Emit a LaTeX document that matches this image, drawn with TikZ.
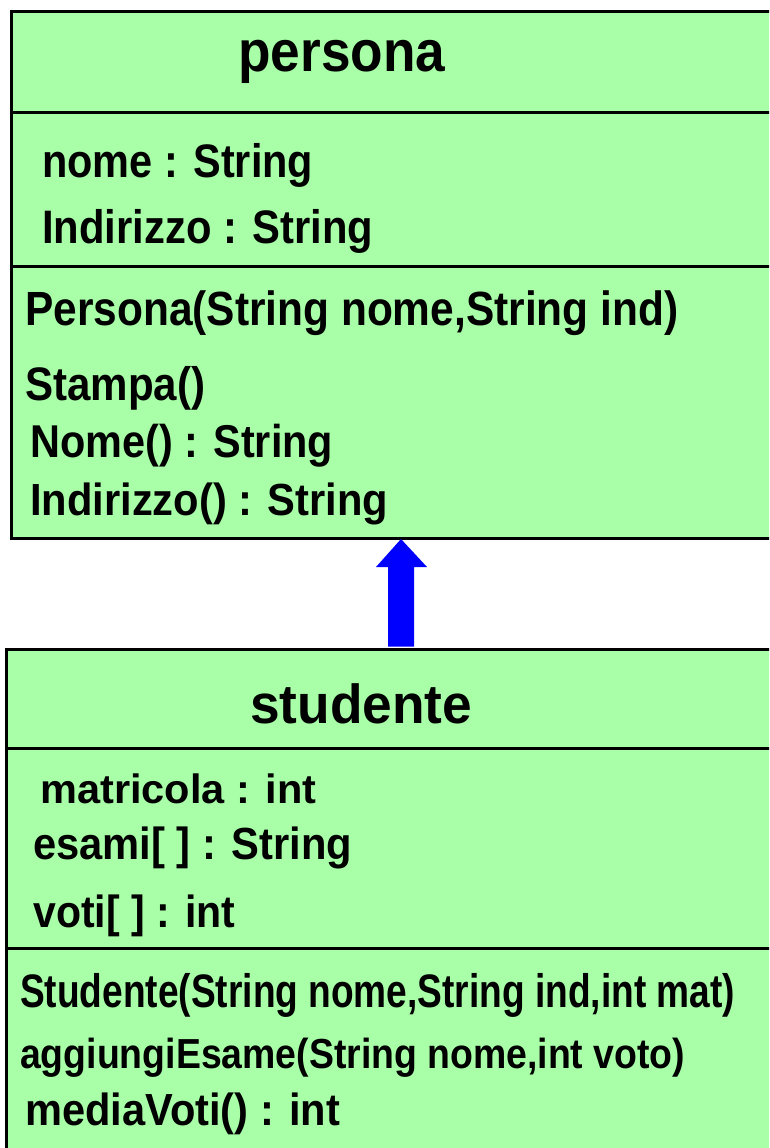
\documentclass[tikz,border=0pt]{standalone}
\usepackage{fontspec}
\setmainfont{Liberation Sans}
\usepackage{graphicx}
\usetikzlibrary{calc}
\definecolor{classfill}{RGB}{168,255,168}
\definecolor{inherit}{RGB}{0,0,255}
% #1 printed width, #2 font size, #3 text
\newcommand\fitline[3]{\resizebox{#1pt}{\height}{\fontsize{#2}{#2}\selectfont\bfseries #3}}
\tikzset{
  classbox/.style={draw=black, line width=3pt, fill=classfill, rectangle,
    anchor=north west, inner sep=0pt},
  sepline/.style={draw=black, line width=3pt},
  member/.style={anchor=base west, inner sep=0pt, text=black},
}
\begin{document}
\begin{tikzpicture}[x=1pt, y=-1pt]
\useasboundingbox (0,0) rectangle (769,1148);
\clip (0,0) rectangle (769,1148);

% class persona
\node[classbox, minimum width=800pt, minimum height=527pt] (pers) at (10,10) {};
\draw[sepline] ([yshift=-102pt]pers.north west) -- ([yshift=-102pt]pers.north east);
\draw[sepline] ([yshift=-256pt]pers.north west) -- ([yshift=-256pt]pers.north east);
\node[member] (pname) at (238,72) {\fitline{207}{58}{persona}};
\node[member] (pa1) at (42,177) {\fitline{271}{47}{nome : String}};
\node[member] (pa2) at (42,243) {\fitline{331}{47}{Indirizzo : String}};
\node[member] (pm1) at (25,325) {\fitline{653}{48}{Persona(String nome,String ind)}};
\node[member] (pm2) at (25,400) {\fitline{180}{47}{Stampa()}};
\node[member] (pm3) at (30,457) {\fitline{303}{46}{Nome() : String}};
\node[member] (pm4) at (30,515) {\fitline{358}{45}{Indirizzo() : String}};

% class studente
\node[classbox, minimum width=800pt, minimum height=560pt] (stud) at (5,648) {};
\draw[sepline] ([yshift=-100pt]stud.north west) -- ([yshift=-100pt]stud.north east);
\draw[sepline] ([yshift=-300pt]stud.north west) -- ([yshift=-300pt]stud.north east);
\node[member] (sname) at (250,723) {\fitline{222}{55}{studente}};
\node[member] (sa1) at (40,803) {\fitline{276}{41}{matricola : int}};
\node[member] (sa2) at (33,859) {\fitline{319}{45}{esami[ ] : String}};
\node[member] (sa3) at (33,927) {\fitline{202}{45}{voti[ ] : int}};
\node[member] (sm1) at (20,1007) {\fitline{715}{47}{Studente(String nome,String ind,int mat)}};
\node[member] (sm2) at (20,1068) {\fitline{665}{42}{aggiungiEsame(String nome,int voto)}};
\node[member] (sm3) at (25,1125) {\fitline{315}{45}{mediaVoti() : int}};

% generalisation arrow: studente -> persona
\coordinate (tip) at (pers.south -| 401,0);
\coordinate (foot) at (stud.north -| 401,0);
\fill[inherit] ($(foot)+(-13,-1.5)$) -- ($(tip)+(-13,27)$) -- ($(tip)+(-25,27)$)
  -- ($(tip)+(0,-1)$) -- ($(tip)+(26,27)$) -- ($(tip)+(13,27)$)
  -- ($(foot)+(13,-1.5)$) -- cycle;
\end{tikzpicture}
\end{document}
